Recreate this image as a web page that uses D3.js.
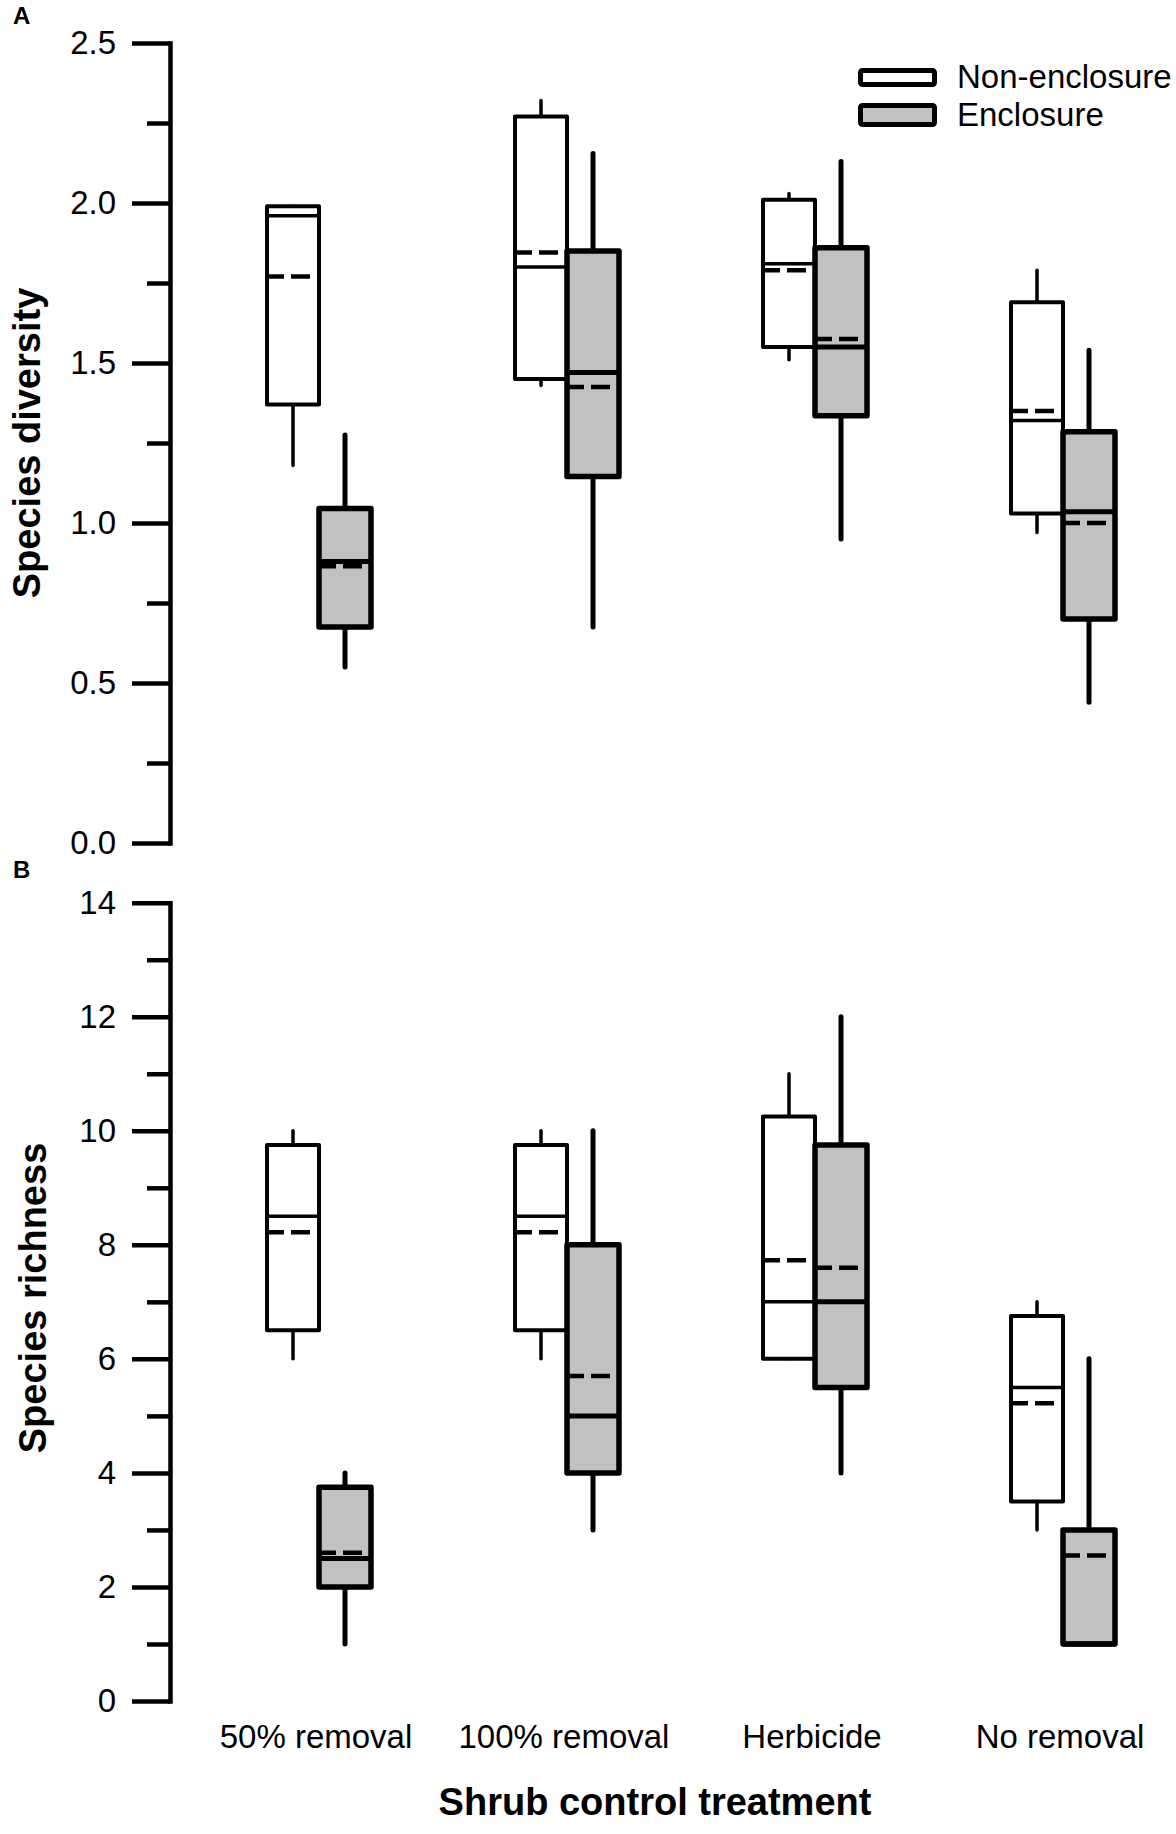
<!DOCTYPE html>
<html>
<head>
<meta charset="utf-8">
<script src="https://cdn.jsdelivr.net/npm/d3@7"></script>
<style>
  body { margin: 0; background: #fff; }
  text { font-family: Arial, "Liberation Sans", sans-serif; fill: #000; }
</style>
</head>
<body>
<svg width="1176" height="1834"></svg>
<script>
/**********************
 Data
 each row: [min, q1, median, q3, max, mean]
**********************/
var categories = ['50% removal', '100% removal', 'Herbicide', 'No removal'];
var seriesNames = ['Non-enclosure', 'Enclosure'];

var diversityNonEnclosure = [
  [1.18, 1.37, 1.96, 1.99, 1.99, 1.77],
  [1.43, 1.45, 1.80, 2.27, 2.32, 1.845],
  [1.51, 1.55, 1.81, 2.01, 2.03, 1.79],
  [0.97, 1.03, 1.32, 1.69, 1.79, 1.35]
];
var diversityEnclosure = [
  [0.55, 0.675, 0.88, 1.045, 1.275, 0.865],
  [0.675, 1.145, 1.47, 1.85, 2.155, 1.425],
  [0.95, 1.335, 1.55, 1.86, 2.13, 1.575],
  [0.44, 0.70, 1.035, 1.285, 1.54, 1.00]
];
var richnessNonEnclosure = [
  [6, 6.5, 8.5, 9.75, 10, 8.22],
  [6, 6.5, 8.5, 9.75, 10, 8.22],
  [6, 6, 7, 10.25, 11, 7.73],
  [3, 3.5, 5.5, 6.75, 7, 5.22]
];
var richnessEnclosure = [
  [1, 2, 2.5, 3.75, 4, 2.6],
  [3, 4, 5, 8, 10, 5.7],
  [4, 5.5, 7, 9.75, 12, 7.6],
  [1, 1, 1, 3, 6, 2.55]
];

var diversityMajorTicks = [0, 0.5, 1.0, 1.5, 2.0, 2.5];
var diversityMinorTicks = [0.25, 0.75, 1.25, 1.75, 2.25];
var richnessMajorTicks = [0, 2, 4, 6, 8, 10, 12, 14];
var richnessMinorTicks = [1, 3, 5, 7, 9, 11, 13];

/**********************
 Layout
**********************/
var svg = d3.select('svg');
var axisX = 170;
var boxW = 52;

var xBand = d3.scaleBand().domain(categories).range([195, 1187]);
var xSub = d3.scaleBand().domain(seriesNames).range([-boxW, boxW]);

var look = {
  'Non-enclosure': {fill: '#ffffff', sw: 4, med: 3.5},
  'Enclosure': {fill: '#c1c1c1', sw: 5.5, med: 5}
};

var yDiv = d3.scaleLinear().domain([0, 2.5]).range([843, 43]);
var yRich = d3.scaleLinear().domain([0, 14]).range([1701, 902.7]);

function drawAxis(yScale, major, minor, fmt) {
  var g = svg.append('g');
  // minor ticks
  g.append('g')
    .attr('transform', 'translate(' + axisX + ',0)')
    .call(d3.axisLeft(yScale).tickValues(minor).tickSize(23).tickSizeOuter(0).tickFormat(''))
    .call(function(a) { a.select('.domain').remove(); })
    .selectAll('line').attr('stroke', '#000').attr('stroke-width', 4.5);

  // major ticks + labels
  var maj = g.append('g')
    .attr('transform', 'translate(' + axisX + ',0)')
    .call(d3.axisLeft(yScale).tickValues(major).tickSize(38).tickSizeOuter(0).tickPadding(16).tickFormat(fmt));
  maj.selectAll('line').attr('stroke', '#000').attr('stroke-width', 4.5);
  maj.select('.domain').attr('stroke', '#000').attr('stroke-width', 4.5).attr('stroke-linecap', 'square');
  maj.selectAll('text')
    .style('font-family', 'Arial, "Liberation Sans", sans-serif')
    .style('font-size', '33px')
    .attr('fill', '#000');
}

function drawBoxes(yScale, rowsBySeries) {
  seriesNames.forEach(function(s, si) {
    var st = look[s];
    var g = svg.append('g').attr('class', 'series ' + si);
    var rows = rowsBySeries[si].map(function(r, i) {
      return {cat: categories[i], min: r[0], q1: r[1], med: r[2], q3: r[3], max: r[4], mean: r[5]};
    });
    var bx = function(d) { return xBand(d.cat) + xBand.bandwidth() / 2 + xSub(s); };

    // whiskers
    g.selectAll('line.up').data(rows).enter().append('line')
      .attr('x1', function(d) { return bx(d) + boxW / 2; })
      .attr('x2', function(d) { return bx(d) + boxW / 2; })
      .attr('y1', function(d) { return yScale(d.q3); })
      .attr('y2', function(d) { return yScale(d.max); })
      .attr('stroke', '#000').attr('stroke-width', st.sw - 0.5).attr('stroke-linecap', 'round');
    g.selectAll('line.down').data(rows).enter().append('line')
      .attr('x1', function(d) { return bx(d) + boxW / 2; })
      .attr('x2', function(d) { return bx(d) + boxW / 2; })
      .attr('y1', function(d) { return yScale(d.q1); })
      .attr('y2', function(d) { return yScale(d.min); })
      .attr('stroke', '#000').attr('stroke-width', st.sw - 0.5).attr('stroke-linecap', 'round');

    // boxes
    g.selectAll('rect').data(rows).enter().append('rect')
      .attr('x', bx)
      .attr('y', function(d) { return yScale(d.q3); })
      .attr('width', boxW)
      .attr('height', function(d) { return yScale(d.q1) - yScale(d.q3); })
      .attr('fill', st.fill)
      .attr('stroke', '#000')
      .attr('stroke-width', st.sw)
      .attr('stroke-linejoin', 'round');

    // median
    g.selectAll('line.med').data(rows).enter().append('line')
      .attr('x1', bx)
      .attr('x2', function(d) { return bx(d) + boxW; })
      .attr('y1', function(d) { return yScale(d.med); })
      .attr('y2', function(d) { return yScale(d.med); })
      .attr('stroke', '#000').attr('stroke-width', st.med);

    // mean (dashed)
    g.selectAll('line.mean').data(rows).enter().append('line')
      .attr('x1', function(d) { return bx(d) + 2; })
      .attr('x2', function(d) { return bx(d) + 45; })
      .attr('y1', function(d) { return yScale(d.mean); })
      .attr('y2', function(d) { return yScale(d.mean); })
      .attr('stroke', '#000').attr('stroke-width', 4.5)
      .attr('stroke-dasharray', '15,7,19,60');
  });
}

/**********************
 Panel A: diversity
**********************/
drawAxis(yDiv, diversityMajorTicks, diversityMinorTicks, d3.format('.1f'));
drawBoxes(yDiv, [diversityNonEnclosure, diversityEnclosure]);

/**********************
 Panel B: richness
**********************/
drawAxis(yRich, richnessMajorTicks, richnessMinorTicks, d3.format('d'));
drawBoxes(yRich, [richnessNonEnclosure, richnessEnclosure]);

/**********************
 Labels
**********************/
svg.append('text').attr('x', 13).attr('y', 24)
  .style('font-size', '24px').style('font-weight', 'bold').text('A');
svg.append('text').attr('x', 13).attr('y', 878)
  .style('font-size', '24px').style('font-weight', 'bold').text('B');

svg.append('text')
  .attr('transform', 'translate(40,443) rotate(-90)')
  .attr('text-anchor', 'middle')
  .style('font-size', '38px').style('font-weight', 'bold')
  .text('Species diversity');
svg.append('text')
  .attr('transform', 'translate(46,1298) rotate(-90)')
  .attr('text-anchor', 'middle')
  .style('font-size', '38px').style('font-weight', 'bold')
  .text('Species richness');

svg.selectAll('text.cat')
  .data(categories)
  .enter()
  .append('text')
  .attr('class', 'cat')
  .attr('x', function(d) { return xBand(d) + xBand.bandwidth() / 2 - 3; })
  .attr('y', 1748)
  .attr('text-anchor', 'middle')
  .style('font-size', '33px')
  .text(function(d) { return d; });

svg.append('text')
  .attr('x', 655).attr('y', 1815)
  .attr('text-anchor', 'middle')
  .style('font-size', '38px').style('font-weight', 'bold')
  .text('Shrub control treatment');

/**********************
 Legend
**********************/
var legend = svg.append('g');
var legendRows = [
  {name: 'Non-enclosure', y: 70.5, h: 14, ty: 88},
  {name: 'Enclosure', y: 105.5, h: 19, ty: 126}
];
legend.selectAll('rect').data(legendRows).enter().append('rect')
  .attr('x', 860.5).attr('y', function(d) { return d.y; })
  .attr('width', 74).attr('height', function(d) { return d.h; })
  .attr('rx', 2)
  .attr('fill', function(d) { return look[d.name].fill; })
  .attr('stroke', '#000').attr('stroke-width', 5);
legend.selectAll('text').data(legendRows).enter().append('text')
  .attr('x', 957).attr('y', function(d) { return d.ty; })
  .style('font-size', '33px')
  .text(function(d) { return d.name; });
</script>
</body>
</html>
